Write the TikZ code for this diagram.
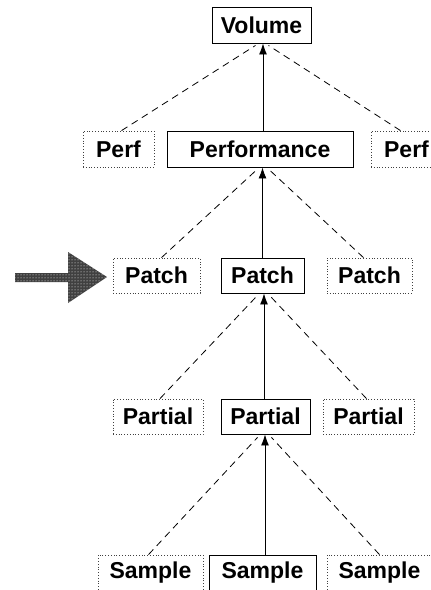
\documentclass[tikz,border=0pt]{standalone}
\usepackage{fontspec}
\setmainfont{Liberation Sans}
\usetikzlibrary{arrows.meta,calc,patterns}
\begin{document}
\begin{tikzpicture}[x=1pt,y=-1pt,
  lbl/.style={font=\fontsize{23}{23}\selectfont\bfseries, inner sep=0pt, anchor=center},
  solidbox/.style={draw=black, line width=0.9pt},
  dotbox/.style={draw=black!75, line width=0.8pt, dash pattern=on 0.8pt off 2pt},
  link/.style={line width=0.9pt, -{Latex[length=11pt,width=8pt]}},
  dlink/.style={line width=0.8pt, dash pattern=on 7pt off 5pt}
]
\useasboundingbox (0,0) rectangle (431,590);
\clip (0,0) rectangle (431,590);
\fill[white] (0,0) rectangle (431,590);

% boxes: name, center x, center y, width, height
\newcommand{\mybox}[7]{%
  \node[#1, minimum width=#5pt, minimum height=#6pt, inner sep=0pt] (#2) at (#3,#4) {};
  \node[lbl] (#2t) at (#3,#4) {#7};}

\mybox{solidbox}{vol}{261.5}{25}{99}{36}{Volume}
\mybox{dotbox}{perfl}{118.5}{149}{71}{36}{Perf}
\mybox{solidbox}{perfm}{260}{149}{186}{36}{Performance}
\mybox{dotbox}{perfr}{406.5}{149}{71}{36}{Perf}
\mybox{dotbox}{patchl}{156.5}{275.5}{87}{35}{Patch}
\mybox{solidbox}{patchm}{262.5}{275.5}{83}{35}{Patch}
\mybox{dotbox}{patchr}{369.5}{275.5}{85}{35}{Patch}
\mybox{dotbox}{partl}{158}{416.5}{90}{35}{Partial}
\mybox{solidbox}{partm}{265.5}{416.5}{89}{35}{Partial}
\mybox{dotbox}{partr}{368.5}{416.5}{91}{35}{Partial}
\mybox{dotbox}{sampl}{150.5}{573}{105}{36}{Sample}
\mybox{solidbox}{sampm}{262.5}{573}{107}{36}{Sample}
\mybox{dotbox}{sampr}{379.5}{573}{105}{36}{Sample}

% solid arrows
\draw[link] (perfm.north -| 263,0) -- (vol.south -| 263,0);
\draw[link] (patchm.north) -- (patchm.north |- perfm.south);
\draw[link] (partm.north -| 264,0) -- (patchm.south -| 264,0);
\draw[link] (sampm.north -| 265,0) -- (partm.south -| 265,0);

% dashed links
\draw[dlink] ($(perfl.north)+(3,0)$) -- ($(vol.south)+(-6,2)$);
\draw[dlink] ($(perfr.north)+(-6,0)$) -- ($(vol.south)+(7,2)$);
\draw[dlink] ($(patchl.north)+(5,0)$) -- ($(perfm.south)+(-4,3)$);
\draw[dlink] ($(patchr.north)+(-6,0)$) -- ($(perfm.south)+(10,3)$);
\draw[dlink] ($(partl.north)+(2,0)$) -- ($(patchm.south)+(-6,3)$);
\draw[dlink] ($(partr.north)+(-2,0)$) -- ($(patchm.south)+(8,3)$);
\draw[dlink] ($(sampl.north)+(-2,0)$) -- ($(partm.south)+(-8,3)$);
\draw[dlink] ($(sampr.north)+(0,0)$) -- ($(partm.south)+(6,3)$);

% big pointer arrow
\coordinate (tip) at (107,277);
\fill[black!75] (15,273) -- (68,273) -- (68,252) -- (tip) -- (68,303) -- (68,282) -- (15,282) -- cycle;
\fill[pattern=dots, pattern color=white] (15,273) -- (68,273) -- (68,252) -- (tip) -- (68,303) -- (68,282) -- (15,282) -- cycle;
\end{tikzpicture}
\end{document}
